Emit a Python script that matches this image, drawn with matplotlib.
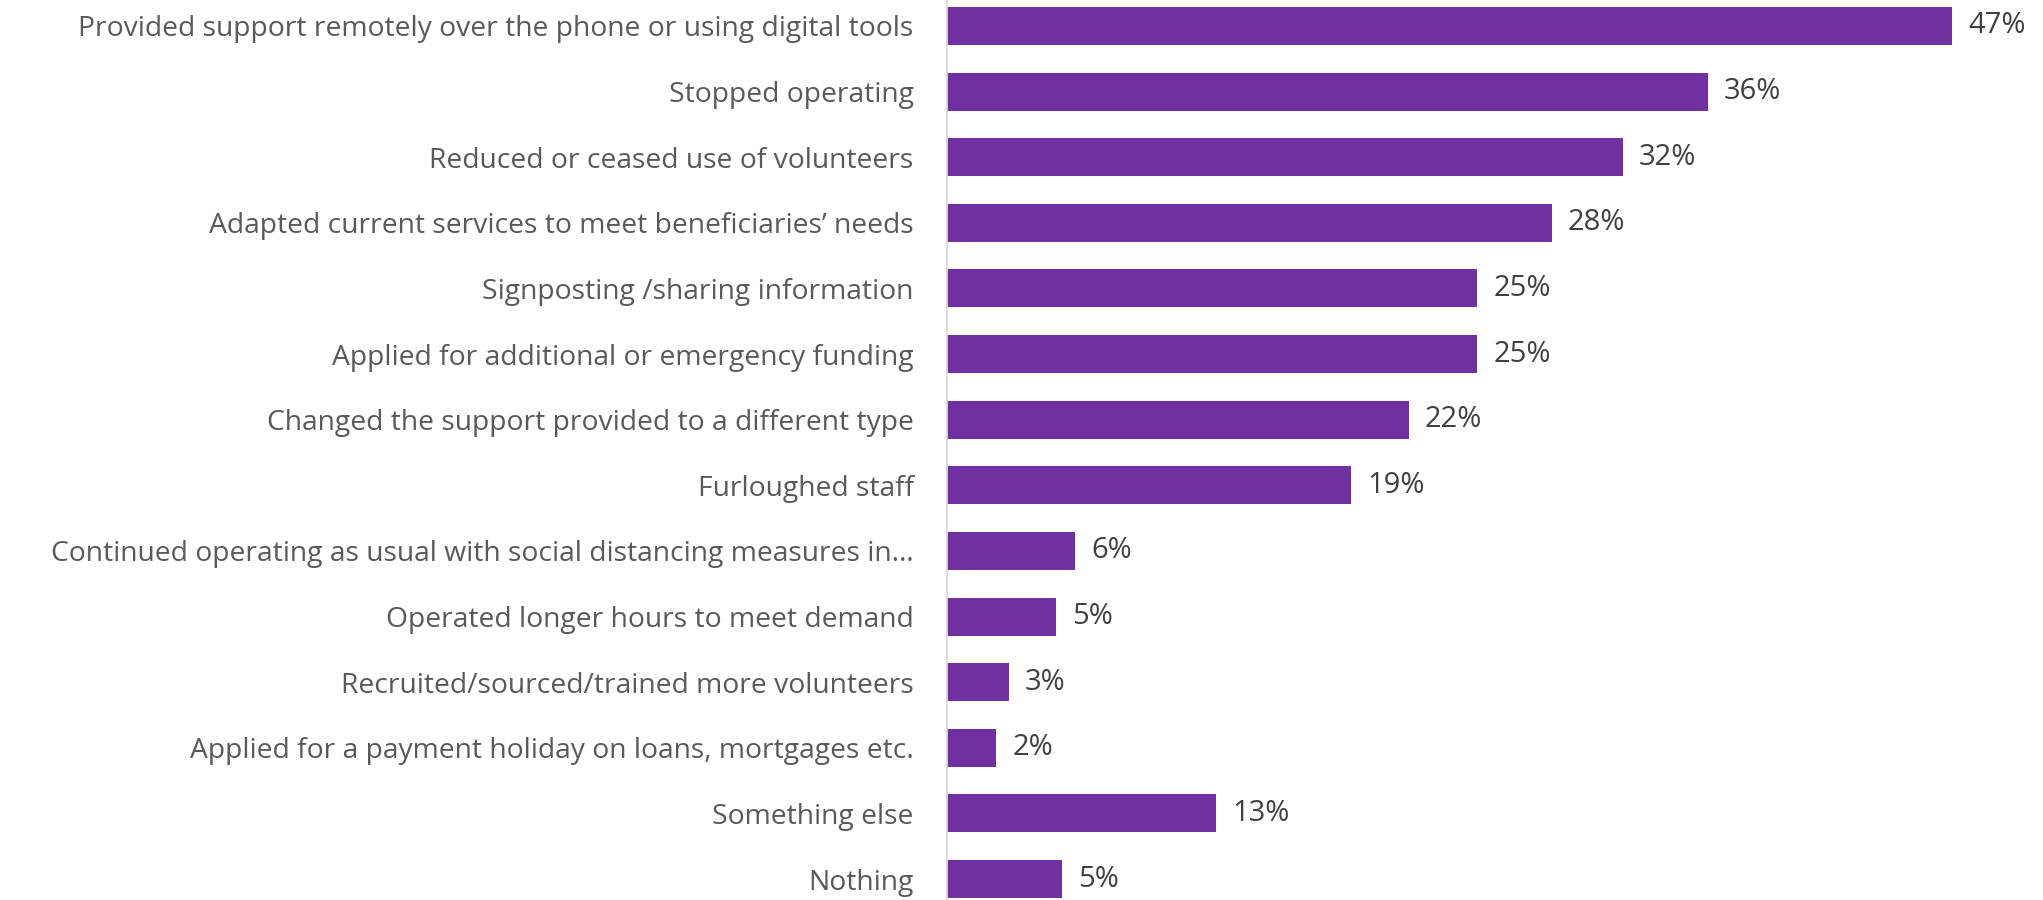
import matplotlib
matplotlib.use("Agg")
import matplotlib.pyplot as plt

categories = [
    "Provided support remotely over the phone or using digital tools",
    "Stopped operating",
    "Reduced or ceased use of volunteers",
    "Adapted current services to meet beneficiaries\u2019 needs",
    "Signposting /sharing information",
    "Applied for additional or emergency funding",
    "Changed the support provided to a different type",
    "Furloughed staff",
    "Continued operating as usual with social distancing measures in\u2026",
    "Operated longer hours to meet demand",
    "Recruited/sourced/trained more volunteers",
    "Applied for a payment holiday on loans, mortgages etc.",
    "Something else",
    "Nothing",
]
values = [47.0, 35.6, 31.6, 28.3, 24.8, 24.8, 21.6, 18.9, 6.0, 5.1, 2.9, 2.3, 12.6, 5.4]
labels = ["47%", "36%", "32%", "28%", "25%", "25%", "22%", "19%",
          "6%", "5%", "3%", "2%", "13%", "5%"]

plt.rcParams["font.family"] = ["Open Sans", "DejaVu Sans"]

fig = plt.figure(figsize=(20.43, 9), dpi=100)
ax = fig.add_axes([947 / 2043, 0, 1069 / 2043, 1])

y = list(range(len(categories)))
ax.barh(y, values, height=0.58, color="#7030A0")

ax.set_xlim(0, 50)
ax.set_ylim(13.32, -0.396)
ax.set_yticks(y)
ax.set_yticklabels(categories, fontsize=20.3, color="#595959")
ax.tick_params(axis="y", length=0, pad=24)
ax.set_xticks([])

for s in ["top", "right", "bottom"]:
    ax.spines[s].set_visible(False)
ax.spines["left"].set_color("#d9d9d9")
ax.spines["left"].set_linewidth(1.3)

for yi, v, lab in zip(y, values, labels):
    ax.text(v + 0.75, yi, lab, va="center", ha="left",
            fontsize=21, color="#404040")

fig.savefig("out.png", dpi=100)
